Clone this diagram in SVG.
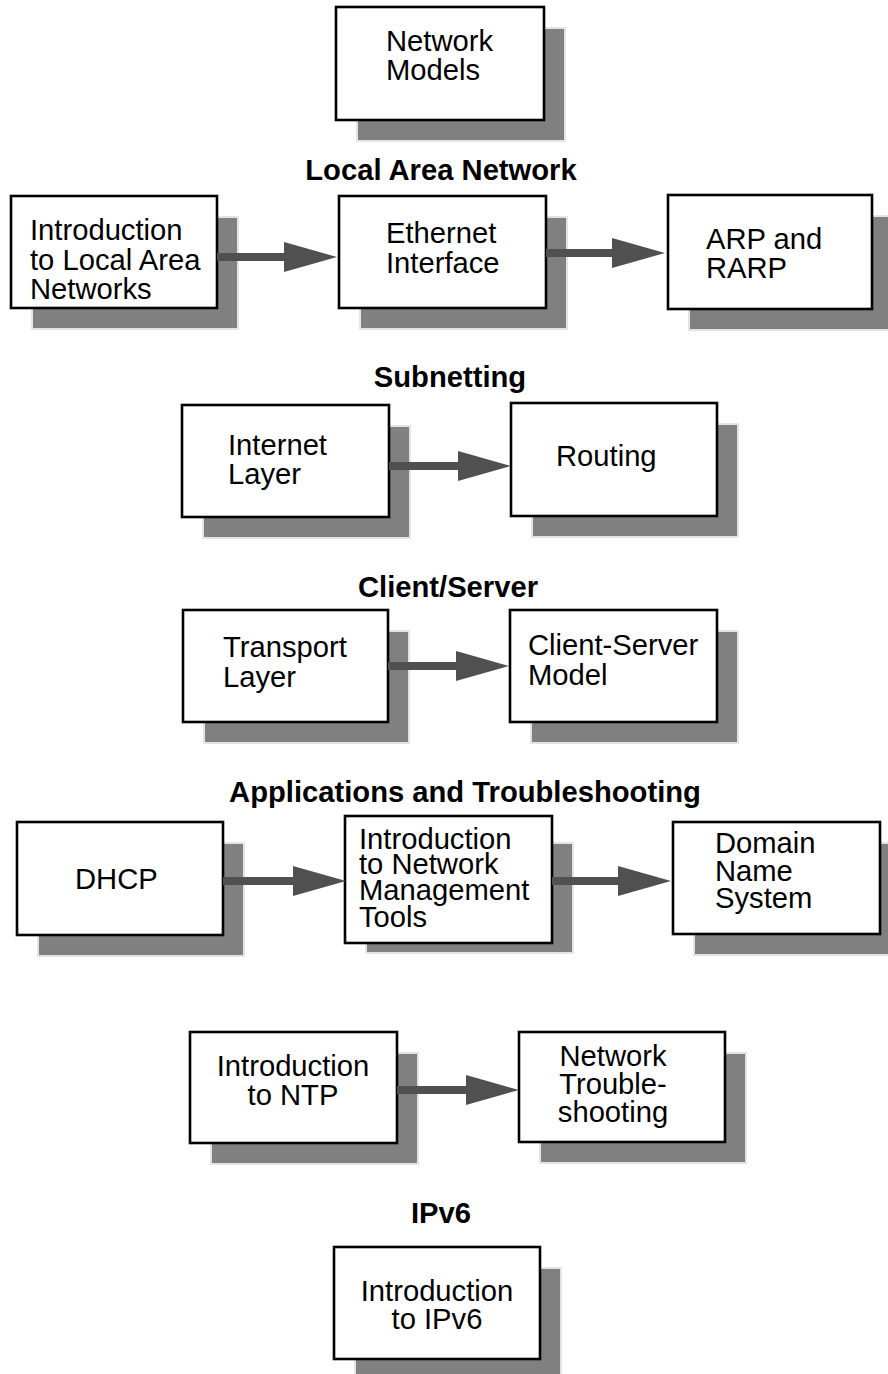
<svg xmlns="http://www.w3.org/2000/svg" width="888" height="1374" viewBox="0 0 888 1374">
<style>
.sh{fill:#808080;stroke:#e4e4e4;stroke-width:2}
.bx{fill:#fff;stroke:#000;stroke-width:2.6}
.t{font-family:"Liberation Sans",Arial,sans-serif;font-size:29.2px;fill:#000}
.c{text-anchor:middle}
.h{font-family:"Liberation Sans",Arial,sans-serif;font-size:29.2px;font-weight:bold;fill:#000;text-anchor:middle}
.ar{stroke:#505050;stroke-width:8;fill:none;marker-end:url(#ah)}
</style>
<defs>
<marker id="ah" markerUnits="userSpaceOnUse" markerWidth="56" markerHeight="32" refX="2" refY="16" orient="auto">
<path d="M0,1 L53,16 L0,31 Z" fill="#505050"/>
</marker>
</defs>
<rect width="888" height="1374" fill="#fff"/>
<g id="titles">
<text class="h" x="441" y="180">Local Area Network</text>
<text class="h" x="450" y="387">Subnetting</text>
<text class="h" x="448" y="597">Client/Server</text>
<text class="h" x="465" y="802">Applications and Troubleshooting</text>
<text class="h" x="441" y="1223">IPv6</text>
</g>
<g id="network-models">
<rect class="sh" x="357" y="28" width="208" height="113"/>
<rect class="bx" x="336" y="7" width="208" height="113"/>
<text class="t"><tspan x="386" y="51">Network</tspan><tspan x="386" y="80">Models</tspan></text>
</g>
<g id="intro-lan">
<rect class="sh" x="32" y="217" width="206" height="112"/>
<rect class="bx" x="11" y="196" width="206" height="112"/>
<text class="t"><tspan x="30" y="240">Introduction</tspan><tspan x="30" y="270">to Local Area</tspan><tspan x="30" y="299">Networks</tspan></text>
</g>
<g id="ethernet">
<rect class="sh" x="360" y="217" width="207" height="112"/>
<rect class="bx" x="339" y="196" width="207" height="112"/>
<text class="t"><tspan x="386" y="243">Ethernet</tspan><tspan x="386" y="273">Interface</tspan></text>
</g>
<g id="arp">
<rect class="sh" x="689" y="216" width="204" height="114"/>
<rect class="bx" x="668" y="195" width="204" height="114"/>
<text class="t"><tspan x="706" y="249">ARP and</tspan><tspan x="706" y="278">RARP</tspan></text>
</g>
<g id="internet-layer">
<rect class="sh" x="203" y="426" width="207" height="112"/>
<rect class="bx" x="182" y="405" width="207" height="112"/>
<text class="t"><tspan x="228" y="455">Internet</tspan><tspan x="228" y="484">Layer</tspan></text>
</g>
<g id="routing">
<rect class="sh" x="532" y="424" width="206" height="113"/>
<rect class="bx" x="511" y="403" width="206" height="113"/>
<text class="t" x="556" y="466">Routing</text>
</g>
<g id="transport-layer">
<rect class="sh" x="204" y="631" width="205" height="112"/>
<rect class="bx" x="183" y="610" width="205" height="112"/>
<text class="t"><tspan x="223" y="657">Transport</tspan><tspan x="223" y="687">Layer</tspan></text>
</g>
<g id="client-server">
<rect class="sh" x="531" y="631" width="207" height="112"/>
<rect class="bx" x="510" y="610" width="207" height="112"/>
<text class="t"><tspan x="528" y="655">Client-Server</tspan><tspan x="528" y="685">Model</tspan></text>
</g>
<g id="dhcp">
<rect class="sh" x="38" y="843" width="206" height="113"/>
<rect class="bx" x="17" y="822" width="206" height="113"/>
<text class="t" x="75" y="889">DHCP</text>
</g>
<g id="net-mgmt">
<rect class="sh" x="366" y="843" width="207" height="110"/>
<rect class="bx" x="345" y="816" width="207" height="127"/>
<text class="t"><tspan x="359" y="849">Introduction</tspan><tspan x="359" y="874">to Network</tspan><tspan x="359" y="900">Management</tspan><tspan x="359" y="927">Tools</tspan></text>
</g>
<g id="dns">
<rect class="sh" x="694" y="843" width="207" height="112"/>
<rect class="bx" x="673" y="822" width="207" height="112"/>
<text class="t"><tspan x="715" y="853">Domain</tspan><tspan x="715" y="881">Name</tspan><tspan x="715" y="908">System</tspan></text>
</g>
<g id="ntp">
<rect class="sh" x="211" y="1053" width="207" height="111"/>
<rect class="bx" x="190" y="1032" width="207" height="111"/>
<text class="t c"><tspan x="293" y="1076">Introduction</tspan><tspan x="293" y="1105">to NTP</tspan></text>
</g>
<g id="troubleshooting">
<rect class="sh" x="540" y="1053" width="206" height="110"/>
<rect class="bx" x="519" y="1032" width="206" height="110"/>
<text class="t c"><tspan x="613" y="1066">Network</tspan><tspan x="613" y="1094">Trouble-</tspan><tspan x="613" y="1122">shooting</tspan></text>
</g>
<g id="ipv6">
<rect class="sh" x="355" y="1268" width="206" height="112"/>
<rect class="bx" x="334" y="1247" width="206" height="112"/>
<text class="t c"><tspan x="437" y="1301">Introduction</tspan><tspan x="437" y="1329">to IPv6</tspan></text>
</g>
<g id="connectors">
<line class="ar" x1="217" y1="257" x2="286" y2="257"/>
<line class="ar" x1="546" y1="253" x2="614" y2="253"/>
<line class="ar" x1="389" y1="466" x2="460" y2="466"/>
<line class="ar" x1="388" y1="666" x2="458" y2="666"/>
<line class="ar" x1="223" y1="881" x2="295" y2="881"/>
<line class="ar" x1="552" y1="881" x2="620" y2="881"/>
<line class="ar" x1="397" y1="1090" x2="468" y2="1090"/>
</g>
</svg>
